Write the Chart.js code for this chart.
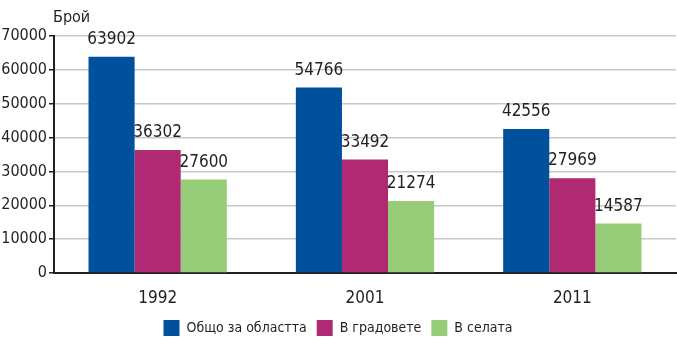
<!DOCTYPE html>
<html>
<head>
<meta charset="utf-8">
<script src="https://cdn.jsdelivr.net/npm/chart.js@4/dist/chart.umd.min.js"></script>
<style>
  html, body { margin: 0; padding: 0; background: #ffffff; }
  #wrap { width: 677px; height: 339px; position: relative; }
</style>
</head>
<body>
<div id="wrap"><canvas id="c"></canvas></div>
<script>
// Population by census year: district total, towns, villages
const years = ['1992', '2001', '2011'];
const seriesNames = ['Общо за областта', 'В градовете', 'В селата'];
const totalValues = [63902, 54766, 42556];
const townValues = [36302, 33492, 27969];
const villageValues = [27600, 21274, 14587];
const yTicks = [0, 10000, 20000, 30000, 40000, 50000, 60000, 70000];
const axisTitle = 'Брой';

const FONT = '"Liberation Sans Narrow", "DejaVu Sans Condensed", "Noto Sans", sans-serif';
const TEXT = '#231f20';

// Draws each bar's value above it and the unit caption over the y axis
const valueLabels = {
  id: 'valueLabels',
  afterDatasetsDraw(chart) {
    const ctx = chart.ctx;
    ctx.save();
    ctx.font = '17px ' + FONT;
    ctx.fillStyle = TEXT;
    ctx.textAlign = 'center';
    ctx.textBaseline = 'alphabetic';
    chart.data.datasets.forEach((ds, di) => {
      chart.getDatasetMeta(di).data.forEach((bar, i) => {
        ctx.fillText(String(ds.data[i]), bar.x, bar.y - 13);
      });
    });
    ctx.font = '16px ' + FONT;
    ctx.textAlign = 'left';
    ctx.fillText(axisTitle, chart.chartArea.left - 1, 22);
    ctx.restore();
  }
};

// Keeps the bottom legend band at a fixed height
const legendBand = {
  id: 'legendBand',
  afterInit(chart) {
    const lg = chart.legend;
    if (!lg) return;
    const fit = lg.fit.bind(lg);
    lg.fit = function () { fit(); this.height = 29; };
  }
};

new Chart(document.getElementById('c'), {
  type: 'bar',
  data: {
    labels: years,
    datasets: [
      { label: seriesNames[0], data: totalValues, backgroundColor: '#00509b' },
      { label: seriesNames[1], data: townValues, backgroundColor: '#b02a73' },
      { label: seriesNames[2], data: villageValues, backgroundColor: '#97cd78' }
    ]
  },
  options: {
    responsive: true,
    maintainAspectRatio: false,
    animation: false,
    layout: { padding: { top: 36, right: 1, left: 0, bottom: 0 } },
    datasets: { bar: { categoryPercentage: 0.667, barPercentage: 1.0 } },
    plugins: {
      legend: {
        position: 'bottom',
        labels: {
          boxWidth: 16, boxHeight: 16, padding: 10,
          color: TEXT,
          font: { family: FONT, size: 14 }
        }
      },
      tooltip: { enabled: false }
    },
    scales: {
      x: {
        afterFit(scale) { scale.height = 37; },
        grid: { display: false },
        border: { display: true, color: '#231f20', width: 2 },
        ticks: { color: TEXT, font: { family: FONT, size: 17 }, padding: 7 }
      },
      y: {
        min: 0, max: 70000,
        afterBuildTicks(scale) { scale.ticks = yTicks.map(v => ({ value: v })); },
        afterFit(scale) { scale.width = 54; },
        grid: { color: '#c8c8c8', lineWidth: 1.5, tickColor: '#231f20', tickLength: 5 },
        border: { display: true, color: '#231f20', width: 2 },
        ticks: {
          color: TEXT, font: { family: FONT, size: 16 }, padding: 2,
          callback: v => String(v)
        }
      }
    }
  },
  plugins: [valueLabels, legendBand]
});
</script>
</body>
</html>
